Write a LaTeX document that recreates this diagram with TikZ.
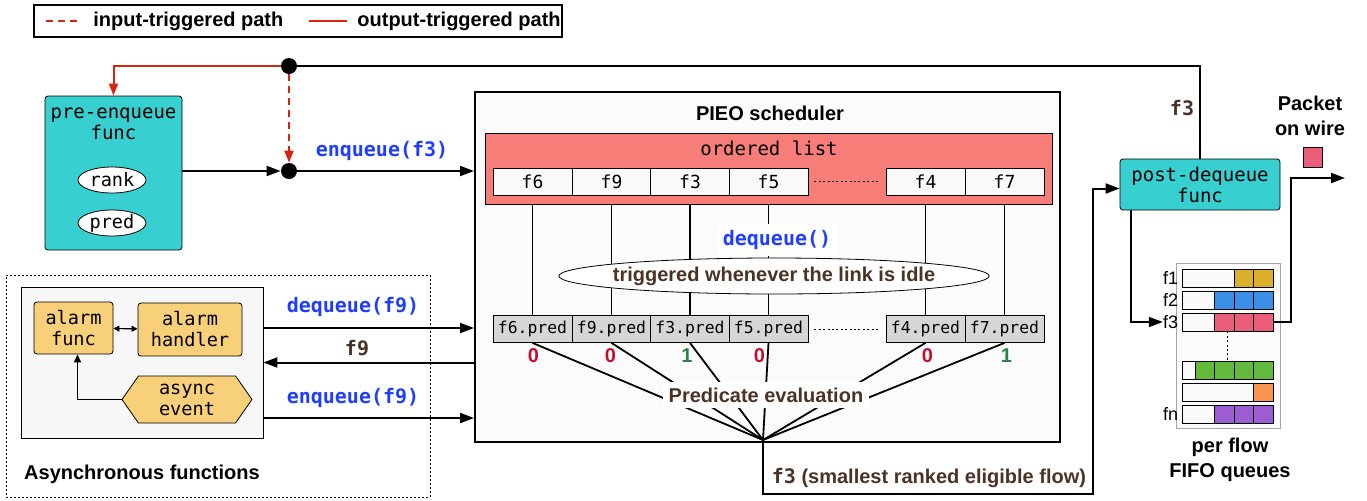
\documentclass[tikz,border=0pt]{standalone}
\usepackage{fontspec}
\setmainfont{Liberation Sans}
\setmonofont{DejaVu Sans Mono}
\usetikzlibrary{calc}
\usetikzlibrary{positioning}
\usetikzlibrary{shapes.geometric}
\usetikzlibrary{shapes.symbols}
\usetikzlibrary{arrows.meta}
\definecolor{pathred}{HTML}{D9230F}
\definecolor{callblue}{HTML}{1F3DFF}
\definecolor{functeal}{HTML}{38CFD1}
\definecolor{listsalmon}{HTML}{F77D78}
\definecolor{alarmcream}{HTML}{F8D07A}
\definecolor{labelbrown}{HTML}{4A3325}
\definecolor{predgray}{HTML}{D6D6D6}
\definecolor{zerored}{HTML}{C4102F}
\definecolor{onegreen}{HTML}{2E8049}
\definecolor{qgold}{HTML}{DBB02B}
\definecolor{qblue}{HTML}{3C8FE6}
\definecolor{qpink}{HTML}{EB5E7B}
\definecolor{qgreen}{HTML}{63B93B}
\definecolor{qorange}{HTML}{FA9250}
\definecolor{qpurple}{HTML}{9C5DD2}
\tikzstyle{funcbox} = [draw, rounded corners=1.5pt, fill=functeal, align=center, inner sep=0pt, font=\ttfamily\fontsize{9.5}{10.5}\selectfont]
\tikzstyle{listcell} = [draw, fill=gray!5, minimum width=39.5pt, minimum height=13.5pt, inner sep=0pt, font=\ttfamily\fontsize{9}{10}\selectfont]
\tikzstyle{predcell} = [listcell, fill=predgray, font=\ttfamily\fontsize{8.2}{10}\selectfont]
\tikzstyle{calllabel} = [text=callblue, font=\ttfamily\bfseries\fontsize{10}{12}\selectfont]
\tikzstyle{boldlabel} = [font=\bfseries\fontsize{10}{12.5}\selectfont, align=center]
\tikzstyle{brownlabel} = [boldlabel, text=labelbrown]
\tikzstyle{junction} = [circle, fill, inner sep=0pt, minimum size=8pt]
\tikzstyle{alarmbox} = [draw, rounded corners=1.5pt, fill=alarmcream, align=center, inner sep=0pt, font=\ttfamily\fontsize{9.3}{10.5}\selectfont]
\tikzstyle{arr} = [-{Triangle[length=7pt,width=5pt]}, line width=1pt]
\tikzstyle{redarr} = [-{Triangle[length=6pt,width=4.5pt]}, line width=1pt, pathred]
\tikzstyle{thinline} = [line width=0.75pt]
\tikzstyle{qcell} = [draw, minimum width=9.75pt, minimum height=9pt, inner sep=0pt]
\tikzstyle{qrow} = [draw, fill=gray!4, minimum width=45.5pt, minimum height=9pt, inner sep=0pt]

\begin{document}
\begin{tikzpicture}[x=0.5pt, y=-0.5pt]
\useasboundingbox (0,0) rectangle (1367,500);

% legend
\node[draw, line width=0.8pt, minimum width=264pt, minimum height=16pt, inner sep=0pt] (legend) at (298,21) {};
\draw[pathred, line width=1pt, dash pattern=on 3.5pt off 2.5pt] (46,21) -- (79,21);
\node[boldlabel, anchor=west, inner sep=0pt] (legend-in) at (93,21) {input-triggered path};
\draw[pathred, line width=1pt] (309,21) -- (347,21);
\node[boldlabel, anchor=west, inner sep=0pt] (legend-out) at (357,21) {output-triggered path};

% pre-enqueue side
\node[funcbox, minimum width=68.5pt, minimum height=77pt] (preenq) at (113.5,173) {};
\node[font=\ttfamily\fontsize{9.5}{10.5}\selectfont, align=center] (preenq-txt) at (113.5,124) {pre-enqueue\\func};
\node[draw, ellipse, fill=white, minimum width=34pt, minimum height=13pt, inner sep=0pt, font=\ttfamily\fontsize{9.3}{10}\selectfont] (rank) at (112,180) {rank};
\node[draw, ellipse, fill=white, minimum width=34pt, minimum height=13pt, inner sep=0pt, font=\ttfamily\fontsize{9.3}{10}\selectfont] (pred) at (112,223) {pred};
\node[junction] (topdot) at (289,66) {};
\node[junction] (enqdot) at (289,171) {};

% PIEO scheduler
\node[draw, line width=1pt, fill=gray!3, minimum width=292.5pt, minimum height=175pt, inner sep=0pt] (pieo) at (767.5,267) {};
\node[boldlabel] (pieo-txt) at (770,113) {PIEO scheduler};
\node[draw, fill=listsalmon, minimum width=283.5pt, minimum height=35.5pt, inner sep=0pt] (olist) at (768.5,168.5) {};
\node[font=\ttfamily\fontsize{9.5}{10.5}\selectfont] (olist-txt) at (769,148) {ordered list};
\foreach \f/\x in {f6/532.5, f9/611.5, f3/690, f5/768.5, f4/925.5, f7/1004.5} {
  \node[listcell] (cell-\f) at (\x,181.5) {\f};
  \node[predcell] (pred-\f) at (\x,329) {\f.pred};
}
\draw[dash pattern=on 1pt off 1.2pt] ($(cell-f5.east)+(6,0)$) -- ($(cell-f4.west)+(-6,0)$);
\draw[dash pattern=on 1pt off 1.2pt] ($(pred-f5.east)+(6,0)$) -- ($(pred-f4.west)+(-6,0)$);
\foreach \f in {f6, f9, f3, f5, f4, f7}
  \draw[thinline] (cell-\f |- olist.south) -- (pred-\f.north);
\node[calllabel, fill=white, inner sep=3pt] (deq) at (777,240) {dequeue()};
\node[draw, ellipse, fill=white, minimum height=18pt, inner xsep=-4.5pt, inner ysep=0pt, brownlabel] (idle) at (774,276) {triggered whenever the link is idle};

% predicate evaluation
\coordinate (evalpt) at (763,440);
\foreach \f in {f6, f9, f3, f5, f4, f7}
  \draw[line width=0.9pt] (pred-\f.south) -- (evalpt);
\foreach \f/\v/\c/\dx in {f6/0/zerored/1, f9/0/zerored/-1, f3/1/onegreen/-3, f5/0/zerored/-9, f4/0/zerored/2, f7/1/onegreen/2}
  \node[boldlabel, text=\c, inner sep=0pt] (bit-\f) at ($(pred-\f.south)+(\dx,13)$) {\v};
\node[brownlabel, fill=white, inner sep=3pt] (evaltxt) at (766,395) {Predicate evaluation};

% enqueue paths
\draw[redarr] (topdot) -| (preenq.north);
\draw[redarr, dash pattern=on 3.5pt off 2.5pt] (topdot) -- (enqdot);
\draw[arr] (preenq.east |- enqdot) -- (enqdot);
\draw[arr] (enqdot) -- (enqdot -| pieo.west);
\node[calllabel] (enq-f3) at (382,151) {enqueue(f3)};

% post-dequeue side
\node[funcbox, minimum width=80pt, minimum height=25.5pt] (postdq) at (1200,184.5) {post-dequeue\\func};
\draw[line width=1pt] (topdot) -| (postdq.north);
\node[brownlabel, font=\ttfamily\bfseries\fontsize{10}{12}\selectfont] (top-f3) at (1182,108) {f3};
\coordinate (outturn) at (1093,494);
\draw[arr] (evalpt) |- (outturn) |- ([yshift=-2pt]postdq.west);
\node[brownlabel] (winner) at (929,478) {{\ttfamily f3} (smallest ranked eligible flow)};

% per flow queues
\node[draw, gray!70, fill=gray!3, minimum width=52pt, minimum height=82.5pt, inner sep=0pt] (fifo) at (1228,345.5) {};
\foreach \row/\y/\n/\c in {q1/278/2/qgold, q2/300/3/qblue, q3/322/3/qpink, q4/370/4/qgreen, q5/392/1/qorange, qn/414/3/qpurple} {
  \node[qrow] (\row) at (1227.5,\y) {};
  \foreach \j in {1,...,\n}
    \node[qcell, fill=\c] (\row-\j) at ({1273-19.5*(\j-0.5)},\y) {};
}
\foreach \row/\t in {q1/f1, q2/f2, q3/f3, qn/fn}
  \node[left=1.5pt of \row.west, inner sep=0pt, font=\fontsize{9}{10}\selectfont] (lbl-\row) {\t};
\draw[dash pattern=on 1pt off 1.2pt, line width=0.7pt] (q3.south) -- (q4.north);
\draw[arr] ([xshift=-34.5pt]postdq.south) |- (lbl-q3.west);
\coordinate (wirebend) at (1291,178);
\coordinate (wireend) at (1345,178);
\draw[arr] (q3.east) -| (wirebend) -- (wireend);
\node[draw, fill=qpink, minimum size=9.75pt, inner sep=0pt] (pkt) at (1313,157.5) {};
\node[boldlabel] (pkt-txt) at (1310,116) {Packet\\on wire};
\node[boldlabel] (fifo-txt) at (1230,460) {per flow\\FIFO queues};

% asynchronous functions
\node[draw, dash pattern=on 1pt off 1pt, minimum width=212pt, minimum height=111pt, inner sep=0pt] (asyncbox) at (218,386) {};
\node[draw, fill=gray!6, minimum width=121pt, minimum height=75.5pt, inner sep=0pt] (asyncinner) at (142,362.5) {};
\node[alarmbox, minimum width=39.5pt, minimum height=26pt] (alarmfunc) at (73.5,328) {alarm\\func};
\node[alarmbox, minimum width=52pt, minimum height=26.5pt] (alarmhandler) at (190,329.5) {alarm\\handler};
\node[alarmbox, rounded corners=0pt, shape=signal, signal to=east and west, signal pointer angle=110, minimum width=65pt, minimum height=23.5pt] (asyncevent) at (187,399.5) {async\\event};
\draw[{Triangle[length=3pt,width=3pt]}-{Triangle[length=3pt,width=3pt]}, line width=0.6pt] (alarmfunc) -- (alarmhandler);
\draw[-{Triangle[length=4pt,width=3.5pt]}, line width=0.6pt] (asyncevent.west) -| ([xshift=2pt]alarmfunc.south);
\node[boldlabel] (async-txt) at (142,474) {Asynchronous functions};
\coordinate (dq9) at (263,328);
\coordinate (eq9) at (263,418);
\draw[arr] (dq9) -- (dq9 -| pieo.west);
\draw[arr] (pieo.west |- asyncinner.east) -- (asyncinner.east);
\draw[arr] (eq9) -- (eq9 -| pieo.west);
\node[calllabel] (deq-f9) at (353,307) {dequeue(f9)};
\node[brownlabel, font=\ttfamily\bfseries\fontsize{10}{12}\selectfont] (back-f9) at (357,348) {f9};
\node[calllabel] (enq-f9) at (353,398) {enqueue(f9)};
\end{tikzpicture}
\end{document}
